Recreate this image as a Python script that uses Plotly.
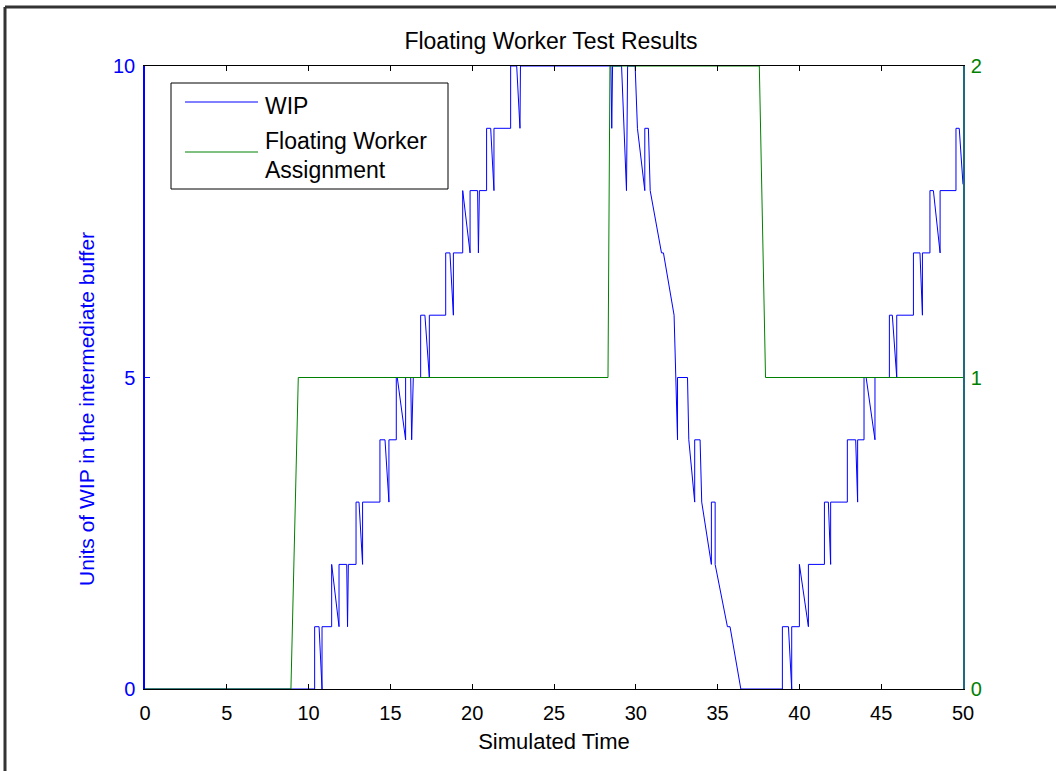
import plotly.graph_objects as go

# ---------------- data ----------------
wip_time = [0, 10.37, 10.37, 10.64, 10.82, 10.82, 11.41, 11.41, 11.86, 11.86, 12.33, 12.38, 12.43,
            12.90, 12.90, 13.08, 13.30, 13.30, 14.36, 14.36, 14.67, 14.91, 14.91, 15.36, 15.36,
            15.42, 15.93, 15.93, 16.24, 16.30, 16.40, 16.85, 16.85, 17.11, 17.38, 17.38, 18.38,
            18.38, 18.64, 18.85, 18.85, 19.42, 19.42, 19.87, 19.87, 20.33, 20.38, 20.44, 20.88,
            20.88, 21.13, 21.33, 21.33, 22.35, 22.35, 22.72, 22.92, 22.95, 28.48, 28.53, 28.58,
            29.13, 29.43, 29.50, 29.96, 30.10, 30.55, 30.55, 30.77, 30.88, 31.57, 31.69, 32.34,
            32.55, 32.55, 33.16, 33.24, 33.60, 33.60, 33.93, 34.03, 34.62, 34.62, 34.85, 34.85,
            35.60, 35.76, 36.42, 38.96, 38.96, 39.33, 39.53, 39.53, 40.00, 40.00, 40.55, 40.55,
            41.53, 41.53, 41.77, 41.91, 41.91, 42.93, 42.93, 43.44, 43.56, 43.56, 43.95, 43.95,
            44.08, 44.62, 44.62, 45.50, 45.50, 45.68, 45.95, 45.95, 46.97, 46.97, 47.37, 47.52,
            47.52, 47.98, 47.98, 48.19, 48.60, 48.60, 49.57, 49.57, 49.77, 50.00]
wip_units = [0, 0, 1, 1, 0, 1, 1, 2, 1, 2, 2, 1, 2,
             2, 3, 3, 2, 3, 3, 4, 4, 3, 4, 4, 5,
             5, 4, 5, 5, 4, 5, 5, 6, 6, 5, 6, 6,
             7, 7, 6, 7, 7, 8, 7, 8, 8, 7, 8, 8,
             9, 9, 8, 9, 9, 10, 10, 9, 10, 10, 9, 10,
             10, 8, 10, 10, 9, 8, 9, 9, 8, 7, 7, 6,
             4, 5, 5, 4, 3, 4, 4, 3, 2, 3, 3, 2,
             1, 1, 0, 0, 1, 1, 0, 1, 1, 2, 1, 2,
             2, 3, 3, 2, 3, 3, 4, 4, 3, 4, 4, 5,
             5, 4, 5, 5, 6, 6, 5, 6, 6, 7, 7, 6,
             7, 7, 8, 8, 7, 8, 8, 9, 9, 8.1]

worker_time = [0, 8.92, 9.37, 28.30, 28.42, 37.55, 37.93, 50]
worker_assign = [0, 0, 1, 1, 2, 2, 1, 1]

x_ticks = [0, 5, 10, 15, 20, 25, 30, 35, 40, 45, 50]
y_ticks = [0, 5, 10]
y2_ticks = [0, 1, 2]

# ---------------- figure ----------------
FONT = "Liberation Sans, Arial, sans-serif"
BLUE = "#0000FF"
GREEN = "#008000"

fig = go.Figure()
fig.add_trace(go.Scatter(x=wip_time, y=wip_units, mode="lines", name="WIP",
                         line=dict(color=BLUE, width=1), yaxis="y", showlegend=False))
fig.add_trace(go.Scatter(x=worker_time, y=worker_assign, mode="lines",
                         name="Floating Worker Assignment",
                         line=dict(color=GREEN, width=1), yaxis="y2", showlegend=False))

L, R, T, B = 145, 93, 66, 82
W, H = 1056, 771
pw, ph = W - L - R, H - T - B


def px(x):
    return (x - L) / pw


def py(y):
    return (H - B - y) / ph


shapes = [
    # outer figure frame
    dict(type="line", xref="paper", yref="paper", x0=px(5), x1=px(5), y0=py(800), y1=py(7),
         line=dict(color="#333333", width=3)),
    dict(type="line", xref="paper", yref="paper", x0=px(5), x1=px(1100), y0=py(7), y1=py(7),
         line=dict(color="#333333", width=3)),
    # legend box
    dict(type="rect", xref="paper", yref="paper", x0=px(171), x1=px(448), y0=py(189), y1=py(83),
         line=dict(color="black", width=1), fillcolor="white", layer="above"),
    dict(type="line", xref="paper", yref="paper", x0=px(185), x1=px(258), y0=py(102), y1=py(102),
         line=dict(color=BLUE, width=1), layer="above"),
    dict(type="line", xref="paper", yref="paper", x0=px(185), x1=px(258), y0=py(152), y1=py(152),
         line=dict(color=GREEN, width=1), layer="above"),
]

LEG_SIZE = 23
annotations = [
    dict(xref="paper", yref="paper", x=px(263), y=py(106), text="WIP", showarrow=False,
         xanchor="left", yanchor="middle", font=dict(family=FONT, size=LEG_SIZE, color="black")),
    dict(xref="paper", yref="paper", x=px(263), y=py(141), text="Floating Worker", showarrow=False,
         xanchor="left", yanchor="middle", font=dict(family=FONT, size=LEG_SIZE, color="black")),
    dict(xref="paper", yref="paper", x=px(263), y=py(170), text="Assignment", showarrow=False,
         xanchor="left", yanchor="middle", font=dict(family=FONT, size=LEG_SIZE, color="black")),
    # left y-axis title (placed as in the original, slightly below centre)
    dict(xref="paper", yref="paper", x=px(86), y=py(409), text="Units of WIP in the intermediate buffer",
         showarrow=False, textangle=-90, xanchor="center", yanchor="middle",
         font=dict(family=FONT, size=21, color=BLUE)),
]

fig.update_layout(
    width=W, height=H,
    margin=dict(l=L, r=R, t=T, b=B),
    paper_bgcolor="white", plot_bgcolor="white",
    font=dict(family=FONT, size=20, color="black"),
    title=dict(text="Floating Worker Test Results", x=px(551), xref="paper", xanchor="center",
               y=1 - 41 / H, yanchor="middle", font=dict(family=FONT, size=23, color="black")),
    xaxis=dict(range=[0, 50], tickvals=x_ticks, ticks="inside", ticklen=5, tickcolor="black",
               showline=True, linecolor="black", linewidth=1, mirror="ticks",
               showgrid=False, zeroline=False, ticklabelstandoff=6,
               tickfont=dict(family=FONT, size=20, color="black"),
               title=dict(text="Simulated Time", standoff=10,
                          font=dict(family=FONT, size=22, color="black"))),
    yaxis=dict(range=[0, 10], tickvals=y_ticks, ticks="inside", ticklen=5, tickcolor=BLUE,
               showline=True, linecolor=BLUE, linewidth=1.5, mirror=False,
               showgrid=False, zeroline=False, ticklabelstandoff=4,
               tickfont=dict(family=FONT, size=20, color=BLUE)),
    yaxis2=dict(range=[0, 2], tickvals=y2_ticks, ticks="inside", ticklen=5, tickcolor=GREEN,
                overlaying="y", side="right", showline=True, linecolor="#1f6a80", linewidth=1.5,
                showgrid=False, zeroline=False, ticklabelstandoff=2,
                tickfont=dict(family=FONT, size=20, color=GREEN)),
    shapes=shapes,
    annotations=annotations,
    showlegend=False,
)

fig.write_html("out.html")
